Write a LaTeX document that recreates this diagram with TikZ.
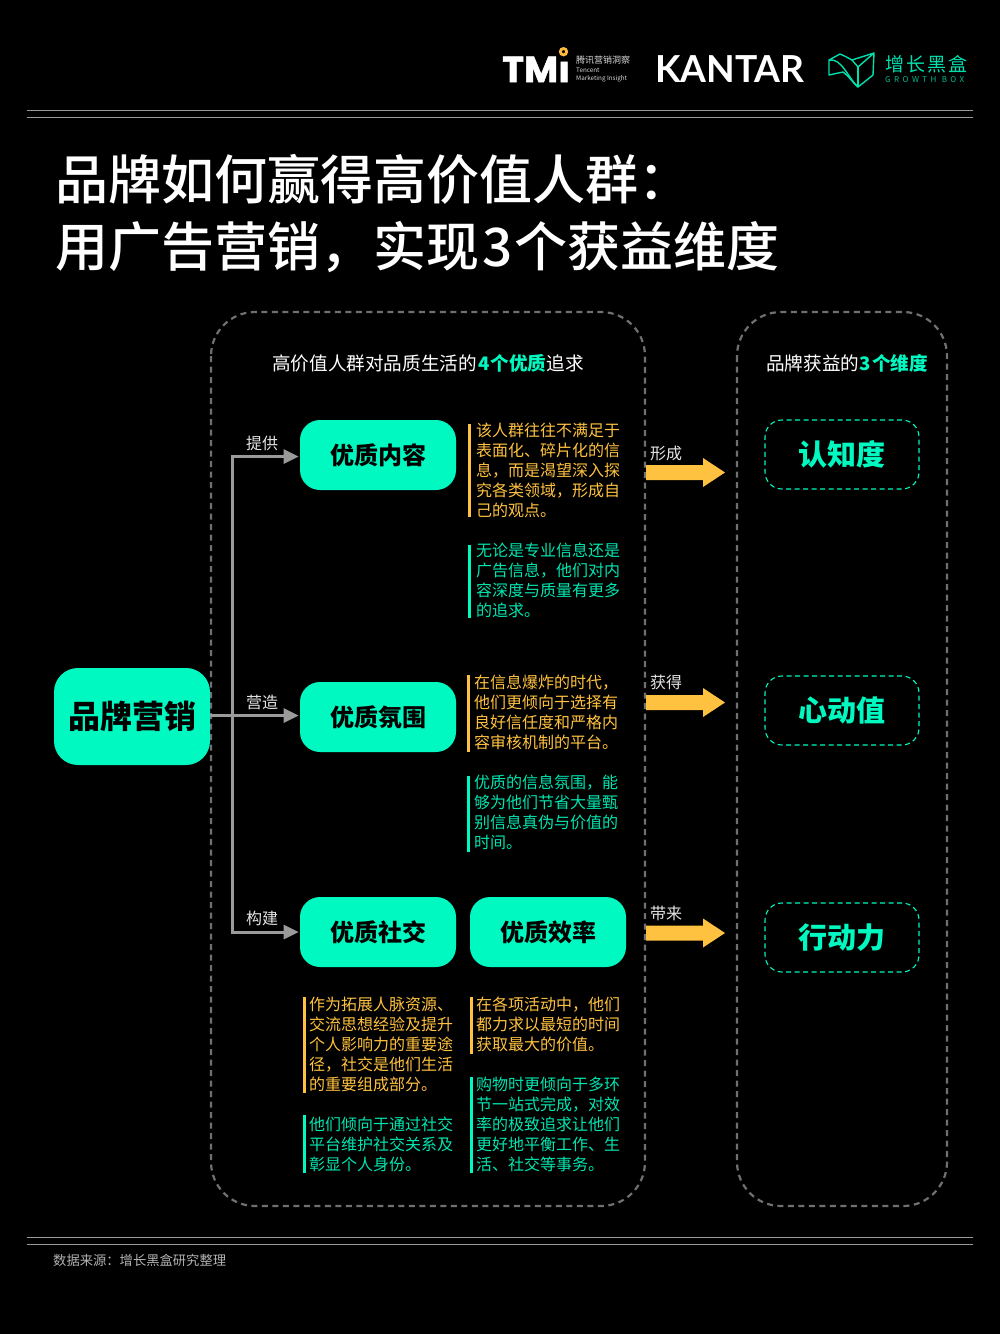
\documentclass[tikz,border=0pt]{standalone}
\usepackage{fontspec}
\setmainfont{Noto Sans CJK SC}
\newfontfamily\cjkblack{Noto Sans CJK SC Black}
\newfontfamily\cjkmed{Noto Sans CJK SC Medium}
\newfontfamily\latinb{Poppins}
\newfontfamily\latinm{Lato}
\definecolor{mint}{HTML}{00F9C0}
\definecolor{mintt}{HTML}{00E6B0}
\definecolor{gold}{HTML}{FFC240}
\definecolor{rulec}{HTML}{9A9A9A}
\definecolor{dashc}{HTML}{707070}
\newcommand{\para}{\fontsize{16}{20}\selectfont}
\newcommand{\fwc}{\char"FF0C\relax}
\newcommand{\fwk}{\char"FF1A\relax}
\tikzset{
 x=1pt,y=-1pt,
 panel/.style={draw=dashc,line width=2.2pt,dash pattern=on 6pt off 4.5pt,rounded corners=44pt},
 goalbox/.style={draw=mint,line width=1.1pt,dash pattern=on 5pt off 3.5pt,rounded corners=17pt,minimum width=154pt,minimum height=69pt,inner sep=0,text=mint,font=\fontsize{29}{29}\selectfont\bfseries},
 mintbox/.style={fill=mint,rounded corners=20pt,minimum width=156pt,minimum height=70pt,inner sep=0,text=black,font=\fontsize{24}{24}\selectfont\bfseries},
 rulel/.style={draw=rulec,line width=1pt},
 conn/.style={draw=rulec,line width=3pt},
 lab/.style={text=white!90!black,font=\fontsize{16}{16}\selectfont,inner sep=0},
 ptext/.style={anchor=north west,inner sep=0,align=left,font=\para},
 titlet/.style={anchor=base west,inner sep=0,text=white,font=\fontsize{53}{53}\selectfont\cjkmed},
}
\begin{document}
\begin{tikzpicture}
\useasboundingbox (0,0) rectangle (1000,1334);
\fill[black] (0,0) rectangle (1000,1334);

% rules
\foreach \yy in {110.5,117.5,1237.5,1244.5}{\draw[rulel] (27,\yy) -- (973,\yy);}

% logos
\node[anchor=base west,inner sep=0,text=white,font=\fontsize{36}{36}\selectfont\latinb\bfseries\addfontfeature{FakeBold=1.5,FakeStretch=1.03}] (tmi) at (502,82) {TMı};
\draw[draw=gold!90!orange,line width=2.8pt] (563.5,51.7) circle (3.2pt);
\node[anchor=west,inner sep=0,text=white!85!black,font=\fontsize{9}{9}\selectfont] (tmia) at (576,60) {腾讯营销洞察};
\node[anchor=west,inner sep=0,text=white!85!black,font=\fontsize{6.3}{6.3}\selectfont] (tmib) at (576,70.5) {Tencent};
\node[anchor=west,inner sep=0,text=white!85!black,font=\fontsize{6.3}{6.3}\selectfont] (tmic) at (576,78.5) {Marketing Insight};
\node[anchor=base west,inner sep=0,text=white,font=\fontsize{37.2}{37.2}\selectfont\latinm\bfseries] (kantar) at (655,82) {KANTAR};
\begin{scope}[draw=mint!90!black,line width=1.4pt,line join=round]
\draw (829,60) -- (840,54) .. controls (845,56) and (848,58) .. (852,60) -- (874,53) -- (873,75) -- (858,87) .. controls (852,82) and (849,76) .. (843,72) -- (829,75) -- cycle;
\draw (829,60) .. controls (842,58) and (848,78) .. (858,87);
\draw (852,60) -- (858,67) -- (874,53);
\draw[line width=2.2pt] (858,67) -- (858,87);
\end{scope}
\node[anchor=west,inner sep=0,text=mint!90!black,font=\fontsize{19}{19}\selectfont] (gbcn) at (885,64) {增\kern2.2pt 长\kern2.2pt 黑\kern2.2pt 盒};
\node[anchor=west,inner sep=0,text=mint!75!black,font=\fontsize{8}{8}\selectfont\addfontfeature{LetterSpace=43}] (gben) at (885,80) {GROWTH BOX};

% title
\node[titlet] (t1) at (55,199) {品牌如何赢得高价值人群\fwk};
\node[titlet] (t2) at (55,266) {用广告营销\fwc 实现\kern3pt 3\kern2pt 个获益维度};

% panels
\draw[panel] (211,312) rectangle (645,1206);
\draw[panel] (737,312) rectangle (947,1206);
\node[anchor=west,inner sep=0,text=white,font=\fontsize{18.6}{18.6}\selectfont] (h1) at (272,363.5) {高价值人群对品质生活的\kern1.5pt{\bfseries\color{mint}4\kern1pt 个优质}\kern0.5pt 追求};
\node[anchor=west,inner sep=0,text=white,font=\fontsize{18.6}{18.6}\selectfont] (h2) at (766,363.5) {品牌获益的{\bfseries\color{mint}3\kern1.5pt 个维度}};

% boxes
\node[mintbox,minimum height=97pt,rounded corners=24pt,font=\fontsize{32}{32}\selectfont\cjkblack] (brand) at (132,716.5) {品牌营销};
\node[mintbox] (b1) at (378,455) {优质内容};
\node[mintbox] (b2) at (378,717) {优质氛围};
\node[mintbox] (b3) at (378,932) {优质社交};
\node[mintbox] (b4) at (548,932) {优质效率};
\node[goalbox] (g1) at (842,454.5) {认知度};
\node[goalbox] (g2) at (842,710.5) {心动值};
\node[goalbox] (g3) at (842,937.5) {行动力};

% connectors
\coordinate (trunk) at (232,716);
\coordinate (e1) at (284,456.5);
\coordinate (e2) at (284,715.5);
\coordinate (e3) at (284,932);
\draw[conn] (brand.east |- e2) -- (e2);
\draw[conn] (e1) -- (trunk |- e1) -- (trunk |- e3) -- (e3);
\foreach \n in {e1,e2,e3}{\fill[rulec] (\n) ++(-0.5,-7.5) -- ++(15,7.5) -- ++(-15,7.5) -- cycle;}
\node[lab] (l1) at (262,443) {提供};
\node[lab] (l2) at (262,702) {营造};
\node[lab] (l3) at (262,918) {构建};

% yellow arrows
\foreach \yy in {472.5,702.5,933}{
\fill[gold] (646,\yy) ++(0,-7.5) -- ++(57,0) -- ++(0,-7) -- ++(22,14.5) -- ++(-22,14.5) -- ++(0,-7) -- ++(-57,0) -- cycle;}
\node[lab] (l4) at (666,453) {形成};
\node[lab] (l5) at (666,682) {获得};
\node[lab] (l6) at (666,913) {带来};

% paragraphs
\fill[gold] (468,424) rectangle (470.6,516.5);
\node[ptext,text=gold] (p1) at (476,423) {该人群往往不满足于\\表面化、碎片化的信\\息\fwc 而是渴望深入探\\究各类领域\fwc 形成自\\己的观点。};
\fill[mint] (468,545) rectangle (470.6,617.5);
\node[ptext,text=mintt] (p2) at (476,543) {无论是专业信息还是\\广告信息\fwc 他们对内\\容深度与质量有更多\\的追求。};
\fill[gold] (467,675) rectangle (469.6,751.5);
\node[ptext,text=gold] (p3) at (474,675) {在信息爆炸的时代\fwc\\他们更倾向于选择有\\良好信任度和严格内\\容审核机制的平台。};
\fill[mint] (467,776) rectangle (469.6,851.5);
\node[ptext,text=mintt] (p4) at (474,775) {优质的信息氛围\fwc 能\\够为他们节省大量甄\\别信息真伪与价值的\\时间。};
\fill[gold] (303,997) rectangle (305.6,1092.5);
\node[ptext,text=gold] (p5) at (309,997) {作为拓展人脉资源、\\交流思想经验及提升\\个人影响力的重要途\\径\fwc 社交是他们生活\\的重要组成部分。};
\fill[mint] (303,1115) rectangle (305.6,1172.5);
\node[ptext,text=mintt] (p6) at (309,1117) {他们倾向于通过社交\\平台维护社交关系及\\彰显个人身份。};
\fill[gold] (470,997) rectangle (472.6,1053.5);
\node[ptext,text=gold] (p7) at (476,997) {在各项活动中\fwc 他们\\都力求以最短的时间\\获取最大的价值。};
\fill[mint] (470,1077) rectangle (472.6,1172.5);
\node[ptext,text=mintt] (p8) at (476,1077) {购物时更倾向于多环\\节一站式完成\fwc 对效\\率的极致追求让他们\\更好地平衡工作、生\\活、社交等事务。};

% footer
\node[anchor=west,inner sep=0,text=white!70!black,font=\fontsize{13.3}{13.3}\selectfont] (src) at (53,1260) {数据来源\fwk 增长黑盒研究整理};
\end{tikzpicture}
\end{document}
